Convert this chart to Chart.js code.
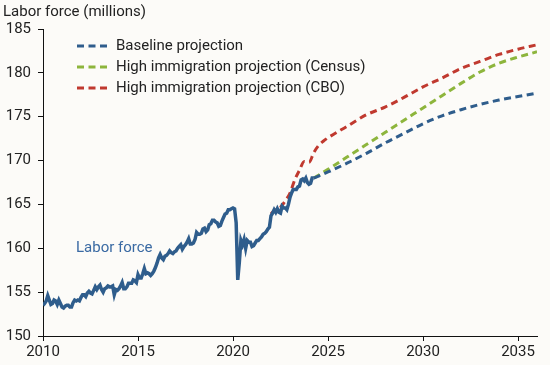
<!DOCTYPE html>
<html>
<head>
<meta charset="utf-8">
<script src="https://cdn.jsdelivr.net/npm/chart.js@4/dist/chart.umd.min.js"></script>
<style>
  html, body { margin: 0; padding: 0; background: #fcfbf8; }
  #wrap { width: 550px; height: 365px; position: relative; }
</style>
</head>
<body>
<div id="wrap"><canvas id="laborChart" width="550" height="365"></canvas></div>
<script>
// monthly labor force, Jan 2010 - Apr 2024 (millions)
const startYear = 2010;
const laborForce = [
  153.5, 153.7, 154.0, 154.6, 154.1, 153.6, 153.7, 154.1, 154.0, 153.6, 154.1, 153.7,
  153.3, 153.2, 153.4, 153.5, 153.5, 153.3, 153.3, 153.8, 154.1, 154.0, 154.1, 154.0,
  154.4, 154.7, 154.7, 154.5, 154.9, 155.1, 154.9, 154.8, 155.2, 155.6, 155.3, 155.6,
  155.8, 155.3, 155.0, 155.4, 155.5, 155.7, 155.6, 155.6, 155.7, 154.7, 155.3, 155.2,
  155.4, 155.7, 156.1, 155.4, 155.4, 155.6, 156.0, 156.0, 156.0, 156.4, 156.3, 156.1,
  157.0, 156.6, 156.6, 157.1, 157.7, 157.1, 157.2, 157.1, 156.9, 157.1, 157.4, 157.8,
  158.3, 158.9, 159.3, 158.9, 158.7, 159.1, 159.2, 159.4, 159.7, 159.5, 159.4, 159.6,
  159.7, 160.0, 160.2, 160.4, 159.9, 160.2, 160.4, 160.7, 161.1, 160.5, 160.5, 160.6,
  161.0, 161.8, 161.6, 161.6, 161.7, 162.2, 162.3, 161.9, 162.1, 162.7, 162.8, 163.2,
  163.2, 163.0, 162.9, 162.5, 162.6, 163.1, 163.5, 163.9, 164.0, 164.4, 164.4, 164.5,
  164.6, 164.5, 162.9, 156.4, 158.4, 160.9, 160.4, 161.0, 160.0, 160.9, 160.7, 160.7,
  160.2, 160.3, 160.6, 160.9, 160.9, 161.1, 161.3, 161.6, 161.7, 161.9, 162.2, 162.4,
  163.7, 164.0, 164.4, 164.1, 164.5, 164.1, 164.0, 164.8, 164.6, 164.6, 164.4, 165.0,
  165.8, 166.3, 166.7, 166.7, 166.7, 167.0, 167.1, 167.8, 167.9, 167.7, 168.0, 167.5,
  167.3, 167.4, 168.0, 168.0
];

const projYears = [2024.25, 2025, 2026, 2027, 2028, 2029, 2030, 2031, 2032, 2033, 2034, 2035, 2036];
const baseline  = [168.0, 168.7, 169.7, 170.8, 172.0, 173.1, 174.2, 175.1, 175.8, 176.4, 176.9, 177.3, 177.7];
const census    = [168.0, 169.0, 170.4, 171.8, 173.2, 174.6, 176.0, 177.4, 178.8, 180.1, 181.1, 181.8, 182.4];

const cboYears  = [2022, 2022.25, 2022.5, 2022.75, 2023, 2023.25, 2023.5, 2023.75, 2024, 2024.25, 2024.5, 2024.75,
                   2025, 2026, 2027, 2028, 2029, 2030, 2031, 2032, 2033, 2034, 2035, 2036];
const cbo       = [163.9, 164.5, 164.7, 165.4, 166.3, 167.8, 168.9, 169.9, 169.8, 170.9, 171.7, 172.2,
                   172.6, 173.9, 175.2, 176.1, 177.2, 178.4, 179.4, 180.5, 181.3, 182.1, 182.7, 183.2];

const xTicks = [2010, 2015, 2020, 2025, 2030, 2035];

const seriesNames = ['Baseline projection', 'High immigration projection (Census)', 'High immigration projection (CBO)'];
const blue = '#2f5d8c', green = '#8db53c', red = '#c0392f';
const font = 'Roboto';

const pts = (xs, ys) => xs.map((x, i) => ({ x: x, y: ys[i] }));
const histPts = laborForce.map((v, i) => ({ x: startYear + i / 12, y: v }));

const overlay = {
  id: 'overlay',
  afterDraw(chart) {
    const ctx = chart.ctx;
    ctx.save();
    ctx.font = '15px ' + font;
    ctx.fillStyle = '#222';
    ctx.textBaseline = 'middle';
    ctx.textAlign = 'left';
    ctx.fillText('Labor force (millions)', 3, 12);

    const cols = [blue, green, red];
    const ys = [46, 67, 88];
    ctx.lineWidth = 3;
    ctx.setLineDash([7, 4.5]);
    cols.forEach((c, i) => {
      ctx.strokeStyle = c;
      ctx.beginPath();
      ctx.moveTo(77, ys[i]);
      ctx.lineTo(110, ys[i]);
      ctx.stroke();
      ctx.fillStyle = '#222';
      ctx.fillText(seriesNames[i], 116, ys[i]);
    });
    ctx.setLineDash([]);

    ctx.fillStyle = '#3a6aa3';
    ctx.fillText('Labor force', 76, 248);
    ctx.restore();
  }
};

window.onload = function () {
  const ctx = document.getElementById('laborChart').getContext('2d');
  new Chart(ctx, {
    type: 'line',
    data: {
      datasets: [
        { label: 'Labor force', data: histPts, borderColor: blue, borderWidth: 3.5, pointRadius: 0, tension: 0 },
        { label: seriesNames[0], data: pts(projYears, baseline), borderColor: blue, borderWidth: 3,
          borderDash: [7, 4.5], pointRadius: 0, cubicInterpolationMode: 'monotone' },
        { label: seriesNames[1], data: pts(projYears, census), borderColor: green, borderWidth: 3,
          borderDash: [7, 4.5], pointRadius: 0, cubicInterpolationMode: 'monotone' },
        { label: seriesNames[2], data: pts(cboYears, cbo), borderColor: red, borderWidth: 3,
          borderDash: [7, 4.5], pointRadius: 0, cubicInterpolationMode: 'monotone' }
      ]
    },
    options: {
      responsive: false,
      animation: false,
      layout: { padding: { top: 29, right: 13, left: 0, bottom: 0 } },
      plugins: { legend: { display: false }, tooltip: { enabled: false } },
      scales: {
        x: {
          type: 'linear', min: 2010, max: 2036,
          afterFit(s) { s.height = 29; },
          afterBuildTicks(s) { s.ticks = xTicks.map(v => ({ value: v })); },
          grid: { drawOnChartArea: false, tickLength: 5, tickColor: '#111' },
          border: { color: '#111', width: 1 },
          ticks: { callback: v => String(v), color: '#222', font: { family: font, size: 15 }, padding: 2, maxRotation: 0 }
        },
        y: {
          min: 150, max: 185,
          afterFit(s) { s.width = 43; },
          grid: { drawOnChartArea: false, tickLength: 5, tickColor: '#111' },
          border: { color: '#111', width: 1 },
          ticks: { stepSize: 5, color: '#222', font: { family: font, size: 15 }, padding: 7 }
        }
      }
    },
    plugins: [overlay]
  });
};
</script>
</body>
</html>
